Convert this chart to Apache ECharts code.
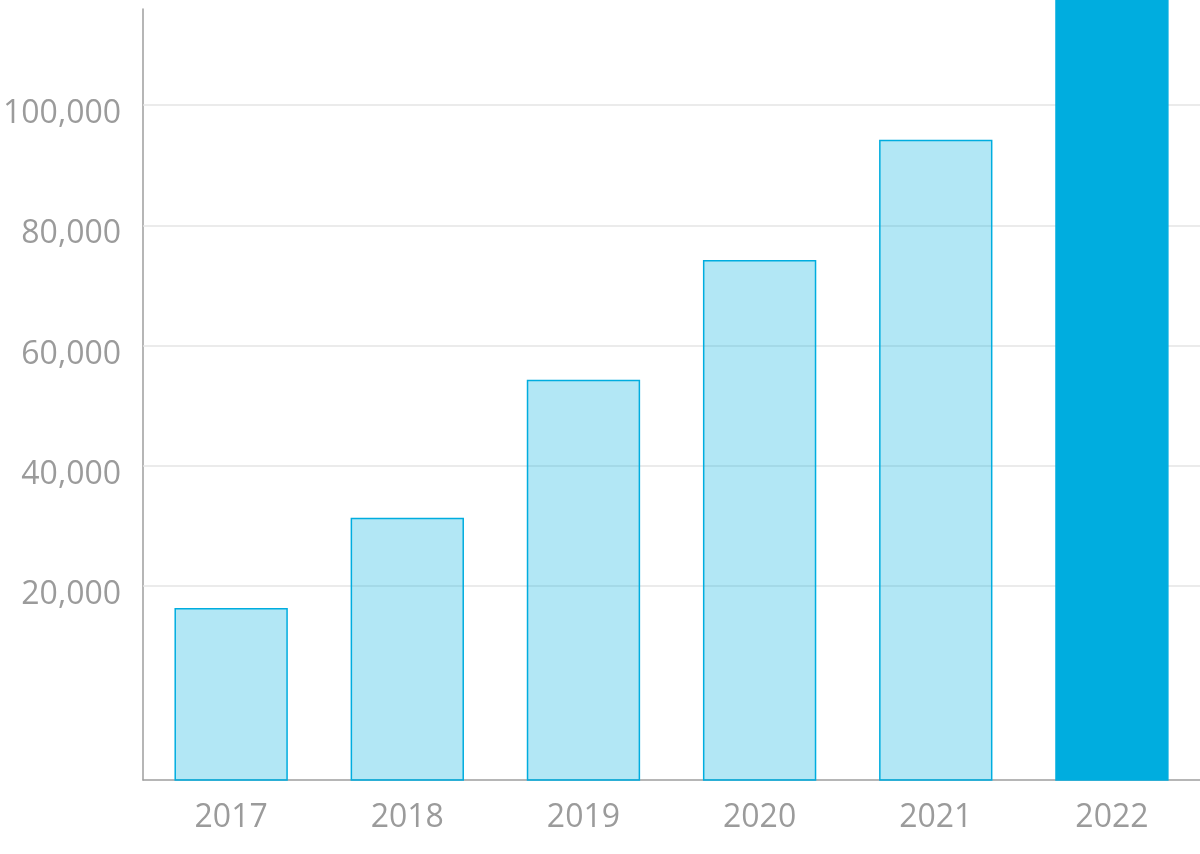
<!DOCTYPE html>
<html><head><meta charset="utf-8">
<script src="https://cdn.jsdelivr.net/npm/echarts@6/dist/echarts.min.js"></script>
<style>html,body{margin:0;padding:0;background:#fff}#c{width:1200px;height:854px}</style>
</head><body><div id="c"></div>
<script>
const categories = ['2017', '2018', '2019', '2020', '2021', '2022'];
const values = [16200, 31200, 54200, 74100, 94100, 125000];
const highlighted = [false, false, false, false, false, true];
const gridValues = [20000, 40000, 60000, 80000, 100000];
const yMin = -12300;
const yMax = 116000;

const chart = echarts.init(document.getElementById('c'), null, {renderer: 'canvas'});
const font = "'Open Sans', sans-serif";
chart.setOption({
  animation: false,
  backgroundColor: '#fff',
  grid: {left: 143, right: 0, top: 9, bottom: 74, containLabel: false},
  xAxis: {
    type: 'category',
    data: categories,
    boundaryGap: true,
    axisLine: {show: true, onZero: false, lineStyle: {color: '#9e9e9e', width: 1.5}},
    axisTick: {show: false},
    splitLine: {show: false},
    axisLabel: {color: '#9b9b9b', fontSize: 32, fontFamily: font, margin: 22}
  },
  yAxis: {
    type: 'value',
    min: yMin,
    max: yMax,
    splitNumber: 6,
    axisLine: {show: true, lineStyle: {color: '#9e9e9e', width: 1.5}},
    axisTick: {show: false},
    splitLine: {show: false},
    axisLabel: {
      color: '#9b9b9b', fontSize: 32, fontFamily: font, margin: 22,
      verticalAlign: 'top', lineHeight: 18,
      formatter: v => gridValues.indexOf(v) >= 0 ? v.toLocaleString('en-US') : ''
    }
  },
  series: [
    {
      type: 'line',
      data: [],
      silent: true,
      z: 1,
      markLine: {
        silent: true,
        z: 1,
        animation: false,
        symbol: ['none', 'none'],
        label: {show: false},
        lineStyle: {color: '#e4e4e4', width: 1.5, type: 'solid'},
        data: gridValues.map(v => ({yAxis: v}))
      }
    },
    {
      type: 'custom',
      z: 10,
      data: values.map((v, i) => [i, v]),
      encode: {x: 0, y: 1},
      renderItem: function (params, api) {
        const i = api.value(0), v = api.value(1);
        const top = api.coord([i, v]);
        const base = api.coord([i, yMin]);
        const w = api.size([1, 0])[0] * 0.635;
        const hl = highlighted[params.dataIndex];
        return {
          type: 'rect',
          shape: {x: top[0] - w / 2, y: top[1], width: w, height: base[1] - top[1]},
          style: {
            fill: hl ? '#00addf' : 'rgba(0,174,223,0.3)',
            stroke: '#00addf',
            lineWidth: 1.5
          }
        };
      }
    }
  ]
});
</script>
</body></html>
